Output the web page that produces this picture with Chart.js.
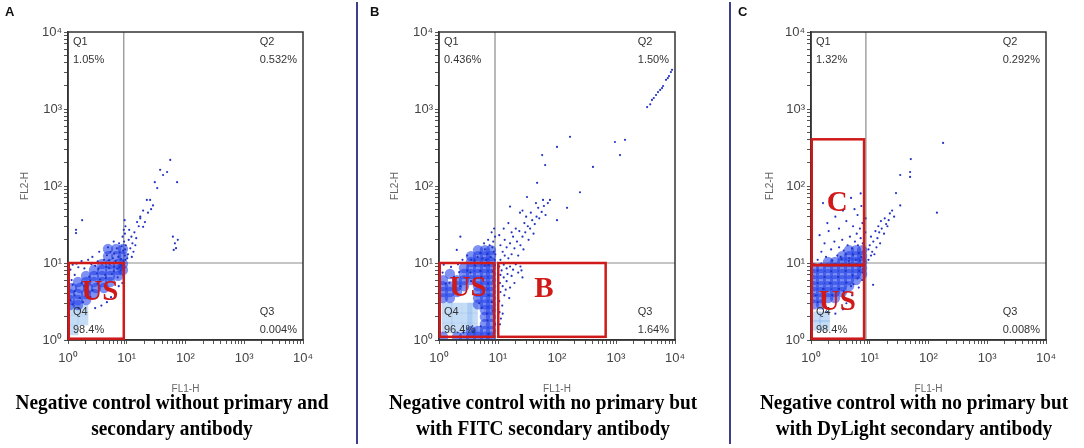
<!DOCTYPE html>
<html>
<head>
<meta charset="utf-8">
<script src="https://cdn.jsdelivr.net/npm/chart.js@4.4.0/dist/chart.umd.min.js"></script>
<style>
  body { margin: 0; background: #fff; width: 1084px; height: 448px; overflow: hidden; position: relative; }
  canvas { position: absolute; top: 0; }
  .letter { position: absolute; top: 4px; font: bold 13px "Liberation Sans", Arial, sans-serif; color: #111; }
  .caption { position: absolute; top: 389px; width: 380px; text-align: center; white-space: nowrap;
    font: bold 21px/26px "Liberation Serif", "Times New Roman", serif; color: #000;
    transform: scaleX(0.92); z-index: 2; }
  .divider { position: absolute; top: 2px; width: 2px; height: 442px; background: #3e3e8e; }
</style>
</head>
<body>
<canvas id="cA" width="357" height="395" style="left:0px"></canvas>
<canvas id="cB" width="368" height="395" style="left:360px"></canvas>
<canvas id="cC" width="352" height="395" style="left:732px"></canvas>

<div class="divider" style="left:356px"></div>
<div class="divider" style="left:729px"></div>

<div class="letter" style="left:5px">A</div>
<div class="letter" style="left:370px">B</div>
<div class="letter" style="left:738px">C</div>

<div class="caption" style="left:-18px">Negative control without primary and<br>secondary antibody</div>
<div class="caption" style="left:353px">Negative control with no primary but<br>with FITC secondary antibody</div>
<div class="caption" style="left:724px">Negative control with no primary but<br>with DyLight secondary antibody</div>

<script>
// axis ticks (log decades 10^0 .. 10^4)
const tickValues = [1,2,3,4,5,6,7,8,9,10,20,30,40,50,60,70,80,90,100,200,300,400,500,600,700,800,900,
  1000,2000,3000,4000,5000,6000,7000,8000,9000,10000];
const decadeValues = [1, 10, 100, 1000, 10000];
const decadeLabels = ['10⁰', '10¹', '10²', '10³', '10⁴'];

// quadrant percentages: Q1, Q2, Q3, Q4
const pctA = ['1.05%', '0.532%', '0.004%', '98.4%'];
const pctB = ['0.436%', '1.50%', '1.64%', '96.4%'];
const pctC = ['1.32%', '0.292%', '0.008%', '98.4%'];

// quadrant split (FL1-H, FL2-H)
const quadA = [8.9, 10];
const quadB = [8.9, 10];
const quadC = [8.6, 10];

// gates: [x0, x1, y0, y1]
const gatesA = [[1.03, 8.9, 1.04, 10]];
const gatesB = [[1.03, 8.6, 1.1, 10], [10.1, 668, 1.1, 10]];
const gatesC = [[1.03, 8.0, 1.04, 9.4], [1.03, 8.0, 9.4, 404]];
const gateTextA = [['US', 3.5, 4.1]];
const gateTextB = [['US', 3.1, 4.6], ['B', 60, 4.5]];
const gateTextC = [['C', 2.8, 60], ['US', 2.8, 3.1]];

// events [FL1-H, FL2-H]
const paleA = [[1.22,2.45],[1.8,2.45],[1.22,1.82],[1.8,1.82],[1.22,1.35]];
const coreA = [
  [4.8,15.2],[6.6,15.2],[8.6,15.2],
  [4.8,12.3],[6.6,12.3],[8.6,12.3],
  [3.8,9.7],[5.2,9.7],[7.1,9.7],[8.6,9.7],
  [2.77,8.1],[3.8,8.1],[5.2,8.1],[7.1,8.1],[8.6,8.1],
  [2.03,6.8],[2.77,6.8],[3.8,6.8],[5.2,6.8],[7.1,6.8],
  [1.48,5.66],[2.03,5.66],[2.77,5.66],[3.8,5.66],[5.2,5.66],
  [1.17,4.73],[1.6,4.73],[2.19,4.73],[3.0,4.73],[4.1,4.73],
  [1.08,3.96],[1.48,3.96],[2.03,3.96],[2.77,3.96],
  [1.08,3.3],[1.48,3.3],[2.03,3.3],
  [1.08,2.85],[1.48,2.85]
];
const dotsA = [
  [3.2,10.5],[4.1,11],[5.0,10.8],[5.8,11.5],[6.5,10.6],[7.2,12],[8.0,11.2],[8.8,10.5],[9.3,12.5],[4.6,12.6],
  [6.1,13.2],[7.6,13.8],[8.7,14.5],[5.3,14],[6.8,15.5],[8.2,16.5],[7.4,18],[6.0,19],[4.8,16],[3.4,14],
  [2.6,12],[2.2,11],[1.7,10.6],[8.5,22],
  [9.0,19],[9.3,24],[9.5,30],[9.2,36],[9.4,15],[9.6,17],[9.5,11],[8.9,27],
  [10.2,11.5],[10.5,13],[11.5,15.5],[12.2,12],[12.5,18],[13,14],[10.8,20],[12,22],[14,17],[13.5,25],
  [14.5,21],[11,27],[16,30],[15,34],[17,38],[17,40],[20.4,34],[19,29.5],[19,48],[23,45],[26,50],
  [22,66],[25,66],[28,56],[30,112],[33,94],[72,112],[37,162],[41.5,139],[48.6,152],[55,218],
  [61,22],[66,18],[69,15.6],[63,14.8],[74,20],
  [1.74,36],[1.37,27],[1.37,24.5],
  [1.2,9.5],[1.5,8.8],[2.5,9.6],[3.8,9.8],[5.1,9.7],[7.8,9.6],[8.6,8.5],[8.8,7],[8.4,5.5],[7.3,5],
  [6.2,4.2],[5.4,3.6],[4.6,3.1],[3.7,2.8],[2.9,2.6],[9.0,9.0],[8.9,6.2],[7.0,6.5],[6.0,7.8],[4.3,7.0],
  [3.2,5.4],[2.2,4.2],[1.6,3.5],[1.2,2.9],[3.3,8.4],[2.3,6.6],[1.7,5.5],[1.3,4.3],[5.0,8.6],[7.5,8.8],
  [1.1,8.2],[1.3,7.0],[1.9,8.5],[1.15,6.0],[1.4,9.8],[2.9,9.2],
  [3.1,7.3],[4.5,8.9],[6.1,9.0],[2.4,5.9],[3.5,6.1],[4.4,6.4],[1.9,5.0],[2.6,4.4],[1.3,3.8],[1.8,3.1],
  [7.9,8.0],[8.2,9.3],[5.6,7.2],[6.9,8.4],[1.1,3.3],[1.5,2.6],[2.4,3.6],[1.2,5.2]
];

const paleB = [[1.37,2.6],[2.0,2.6],[3.0,2.6],[3.7,2.6],[1.37,1.93],[2.0,1.93],[3.0,1.93],[3.7,1.93],[1.37,1.43],[2.0,1.43],[3.0,1.43],[3.7,1.43]];
const coreB = [
  [4.58,14.7],[6.0,14.7],[7.6,14.7],
  [3.48,12.3],[4.58,12.3],[6.0,12.3],[7.6,12.3],
  [3.48,10.3],[4.58,10.3],[6.0,10.3],[7.6,10.3],
  [2.65,8.6],[3.48,8.6],[4.58,8.6],[6.0,8.6],[7.6,8.6],
  [1.53,7.2],[2.65,7.2],[3.48,7.2],[4.58,7.2],[6.0,7.2],[7.6,7.2],
  [1.17,6.0],[2.02,6.0],[2.65,6.0],[3.48,6.0],[4.58,6.0],[6.0,6.0],[7.6,6.0],
  [1.17,5.0],[1.53,5.0],[2.02,5.0],[2.65,5.0],[4.58,5.0],[6.0,5.0],[7.6,5.0],
  [1.17,4.2],[1.53,4.2],[2.02,4.2],[4.58,4.2],[6.0,4.2],[7.6,4.2],
  [1.17,3.5],[1.53,3.5],[4.58,3.5],[6.0,3.5],[7.6,3.5],
  [4.58,2.9],[6.0,2.9],[7.6,2.9],
  [6.0,2.45],[7.6,2.45],[6.0,2.0],[7.6,2.0],[6.0,1.61],[7.6,1.61],
  [3.48,1.31],[4.58,1.31],[6.0,1.31],[7.6,1.31],
  [1.17,1.1],[2.02,1.1],[2.65,1.1],[3.48,1.1],[4.58,1.1],[6.0,1.1],[7.6,1.1]
];
const dotsB = [
  [3370,1060],[3800,1150],[4070,1310],[4370,1390],[4770,1520],[5150,1660],[5600,1770],[6030,1870],
  [6280,1990],[7050,2390],[7560,2520],[7900,2680],[8520,3020],[8900,3230],
  [166,435],[100,322],[56,252],[63,187],[960,373],[1420,398],[1170,252],[407,177],[46,110],[245,83],
  [76,66],[148,52],[31,72],[2.3,22],[2.0,14.8],[16,54],[23.6,45],[100,36],
  [11,11],[13,12.5],[15,11.5],[12,14],[14,16],[17,13],[19,15.5],[16,18],[21,19],[18,22],[24,17],[26,22],
  [23,26],[29,25],[32,30],[28,33],[35,28],[38,36],[42,32],[45,40],[36,45],[50,38],[55,46],[48,52],
  [60,55],[30,40],[20,28],[17,25],[13,20],[11,17],[10.5,23],[12.5,28],[15,33],[40,24],[33,20],[27,15],
  [22,12.5],[64,42],[70,60],[58,66],[44,60],[26,48],
  [3.5,11],[4.5,12],[5.5,11.5],[6.5,13],[7.5,12],[8.5,14],[8.8,11],[6,15],[7.2,17],[8.3,19],[8.9,22],
  [5,13.5],[4,10.8],[7.8,25],[8.6,28],[6.8,20],[3,12.5],[2.5,11],[8,16],[9,13],[5.8,18],
  [10.5,9],[11.5,8],[12.5,9.5],[14,8.5],[16,9],[18,8.2],[20,9.6],[11,7],[12.5,6.5],[14.5,7.2],[17,6.8],
  [22,7.5],[10.8,5.5],[12,5],[14,5.8],[16,4.8],[11,4.2],[12.8,3.8],[10.5,3.2],[11.8,2.8],[10.6,2.3],
  [13.5,4.5],[19,5.5],[24,9],[26,6.5],[15.5,3.5],[11.2,1.9],[10.8,1.6],[12,2.2],[25,8],
  [1.2,9.5],[1.6,8.9],[2.1,9.6],[1.15,7.5],[1.5,5.5],[2.3,5.0],[3.4,7.5],[3.5,5.8],[4.8,3.0],[6.5,2.2],
  [7.9,3.1],[8.9,9.4],[8.9,1.6],[3.8,1.3],[2.6,1.25],[6.0,9.3],[5.0,7.9],
  [5.2,6.6],[6.8,5.4],[7.1,3.8],[5.3,2.6],[6.6,1.8],[8.1,2.4],[7.0,1.2],[5.1,1.5],[8.3,5.9],[4.1,9.2],
  [3.0,8.0],[2.2,7.6],[1.8,6.6],[1.3,5.4],[8.2,7.8],[6.3,11.0],[7.0,9.5],[5.5,9.9]
];

const paleC = [[1.2,2.0],[1.7,2.0],[1.2,1.55],[1.7,1.55]];
const coreC = [
  [4.43,14.7],[5.83,14.7],[7.4,14.7],
  [3.37,12.3],[4.43,12.3],[5.83,12.3],[7.4,12.3],
  [1.95,10.3],[2.56,10.3],[3.37,10.3],[4.43,10.3],[5.83,10.3],[7.4,10.3],
  [1.12,8.6],[1.48,8.6],[1.95,8.6],[2.56,8.6],[3.37,8.6],[4.43,8.6],[5.83,8.6],[7.4,8.6],
  [1.12,7.2],[1.48,7.2],[1.95,7.2],[2.56,7.2],[3.37,7.2],[4.43,7.2],[5.83,7.2],[7.4,7.2],
  [1.12,6.0],[1.48,6.0],[1.95,6.0],[2.56,6.0],[3.37,6.0],[4.43,6.0],[5.83,6.0],
  [1.12,5.0],[1.48,5.0],[1.95,5.0],[2.56,5.0],[3.37,5.0],[4.43,5.0],
  [1.12,4.2],[1.48,4.2],[1.95,4.2],[2.56,4.2],[3.37,4.2],
  [1.12,3.5],[1.48,3.5],[1.95,3.5],[2.56,3.5],
  [1.12,2.9],[1.48,2.9]
];
const dotsC = [
  [177,363],[50,224],[48.6,152],[48.6,131],[33,139],[28,81],[33,56],[139,45],[11.4,5.2],
  [9.5,11],[10.5,12.5],[11,14],[12,13],[13,16],[10,17],[11.5,19],[13.5,21],[15,18],[14.5,25],[16,28],
  [17.5,24],[19,32],[18,38],[21,36],[22,44],[24,48],[20,30],[12.5,26],[15.5,35],[10.5,22],[9.5,15],
  [14,30],[26,40],
  [1.3,11],[1.8,12],[2.3,10.8],[2.8,12.5],[3.3,11.2],[3.9,13],[4.5,11.5],[5.2,12.8],[5.8,11],[6.5,13.5],
  [7.2,12],[7.8,14],[1.5,14],[2.2,15],[3.0,16],[3.6,14.5],[4.2,17],[5.0,15.5],[5.6,19],[6.3,17],[7.0,21],
  [7.6,18],[6.0,24],[4.6,22],[3.4,20],[2.5,19],[1.7,18],[1.4,23],[2.0,26],[3.0,28],[5.2,30],[6.8,28],
  [7.5,33],[4.0,35],[2.6,40],[1.9,33],[6.2,42],[5.5,50],[7.2,55],[3.5,48],[1.6,60],[4.8,70],[7.0,80],
  [8.2,10.5],[8.0,16],[8.4,25],[8.5,38],[3.2,12],[4.4,10.6],[6.8,10.7],
  [1.1,9.5],[1.5,9.8],[2.0,9.4],[2.6,9.7],[3.4,9.5],[4.5,9.8],[5.9,9.6],[7.5,9.2],[7.6,7.5],[7.4,6.0],
  [6.5,4.8],[5.0,3.8],[4.0,3.0],[3.5,2.5],[2.6,2.2],[1.9,2.3],[7.7,8.4],[6.2,6.3],[4.8,5.0],[3.6,4.3],
  [1.3,8.0],[1.7,6.6],[2.2,7.8],[2.9,6.6],[3.9,7.9],[5.1,6.9],[6.6,7.9],[1.3,5.5],[2.1,5.5],[3.0,4.6],
  [1.6,4.6],[1.2,3.8],[2.3,3.8],[1.7,3.2],[1.3,3.1],[4.0,5.6],[5.3,5.3],[6.9,9.0]
];

const toPts = arr => arr.map(p => ({ x: p[0], y: p[1] }));

const overlay = {
  id: 'overlay',
  beforeDatasetsDraw(chart, args, o) {
    const { ctx, chartArea: a, scales: { x, y } } = chart;
    const qx = x.getPixelForValue(o.quad[0]);
    const qy = y.getPixelForValue(o.quad[1]);
    ctx.save();
    ctx.strokeStyle = '#8c8c8c';
    ctx.lineWidth = 1.2;
    ctx.beginPath();
    ctx.moveTo(qx, a.top); ctx.lineTo(qx, a.bottom);
    ctx.moveTo(a.left, qy); ctx.lineTo(a.right, qy);
    ctx.stroke();
    ctx.restore();
  },
  afterDatasetsDraw(chart, args, o) {
    const { ctx, chartArea: a, scales: { x, y } } = chart;
    ctx.save();
    // frame
    ctx.strokeStyle = '#333';
    ctx.lineWidth = 1.5;
    ctx.strokeRect(a.left, a.top, a.right - a.left, a.bottom - a.top);

    // quadrant names and percentages
    ctx.fillStyle = '#333';
    ctx.font = '11px "Liberation Sans", Arial, sans-serif';
    ctx.textBaseline = 'middle';
    ctx.textAlign = 'left';
    const lx = a.left + 5;
    ctx.fillText('Q1', lx, a.top + 10);
    ctx.fillText(o.pct[0], lx, a.top + 28);
    ctx.fillText('Q4', lx, a.bottom - 28);
    ctx.fillText(o.pct[3], lx, a.bottom - 10);
    const r2 = a.right - 6 - ctx.measureText(o.pct[1]).width;
    ctx.fillText('Q2', r2, a.top + 10);
    ctx.fillText(o.pct[1], r2, a.top + 28);
    const r3 = a.right - 6 - ctx.measureText(o.pct[2]).width;
    ctx.fillText('Q3', r3, a.bottom - 28);
    ctx.fillText(o.pct[2], r3, a.bottom - 10);

    // gates
    ctx.strokeStyle = '#d01a1a';
    ctx.lineWidth = 2.5;
    o.gates.forEach(g => {
      const x0 = x.getPixelForValue(g[0]), x1 = x.getPixelForValue(g[1]);
      const y0 = y.getPixelForValue(g[2]), y1 = y.getPixelForValue(g[3]);
      ctx.strokeRect(x0, y1, x1 - x0, y0 - y1);
    });
    ctx.fillStyle = '#d01a1a';
    ctx.font = 'bold 29px "Liberation Serif", "Times New Roman", serif';
    ctx.textAlign = 'center';
    o.gateText.forEach(t => {
      ctx.fillText(t[0], x.getPixelForValue(t[1]), y.getPixelForValue(t[2]));
    });
    ctx.restore();
  }
};

function axisOpts(isX, p) {
  return {
    type: 'logarithmic',
    min: 1,
    max: 10000,
    afterBuildTicks: s => { s.ticks = tickValues.map(v => ({ value: v })); },
    afterFit: s => { if (isX) s.height = 55; else s.width = p.yWidth; },
    grid: { display: true, drawOnChartArea: false, drawTicks: true, tickLength: 4, color: '#555', lineWidth: 1 },
    border: { display: true, color: '#333', width: 1.5 },
    ticks: {
      autoSkip: false,
      maxRotation: 0,
      padding: isX ? 7 : 2,
      color: '#444',
      font: { family: '"Liberation Sans", Arial, sans-serif', size: 13 },
      callback: v => {
        const i = decadeValues.indexOf(v);
        return i >= 0 ? decadeLabels[i] : '';
      }
    },
    title: {
      display: true,
      text: isX ? 'FL1-H' : 'FL2-H',
      color: '#666',
      font: { family: '"Liberation Sans", Arial, sans-serif', size: 10 },
      padding: isX ? { top: 0, bottom: 0 } : { top: p.titlePad, bottom: 0 }
    }
  };
}

function makePanel(p) {
  new Chart(document.getElementById(p.id), {
    type: 'scatter',
    data: {
      datasets: [
        { data: toPts(p.dots), backgroundColor: '#2234c4', borderWidth: 0, pointRadius: 1.1, order: 1 },
        { data: toPts(p.core), backgroundColor: 'rgba(26,58,232,0.56)', borderWidth: 0, pointRadius: 5.2, order: 2 },
        { data: toPts(p.pale), backgroundColor: 'rgba(150,192,238,0.55)', borderWidth: 0, pointRadius: 7.5, pointStyle: 'rect', order: 3 }
      ]
    },
    options: {
      responsive: false,
      animation: false,
      events: [],
      layout: { padding: { left: 0, top: 32, right: p.padRight, bottom: 0 } },
      plugins: {
        legend: { display: false },
        tooltip: { enabled: false },
        overlay: { quad: p.quad, pct: p.pct, gates: p.gates, gateText: p.gateText }
      },
      scales: { x: axisOpts(true, p), y: axisOpts(false, p) }
    },
    plugins: [overlay]
  });
}

makePanel({ id: 'cA', yWidth: 68, padRight: 54, titlePad: 19, quad: quadA, pct: pctA, gates: gatesA, gateText: gateTextA, dots: dotsA, core: coreA, pale: paleA });
makePanel({ id: 'cB', yWidth: 79, padRight: 53, titlePad: 29, quad: quadB, pct: pctB, gates: gatesB, gateText: gateTextB, dots: dotsB, core: coreB, pale: paleB });
makePanel({ id: 'cC', yWidth: 79, padRight: 38, titlePad: 32, quad: quadC, pct: pctC, gates: gatesC, gateText: gateTextC, dots: dotsC, core: coreC, pale: paleC });
</script>
</body>
</html>
